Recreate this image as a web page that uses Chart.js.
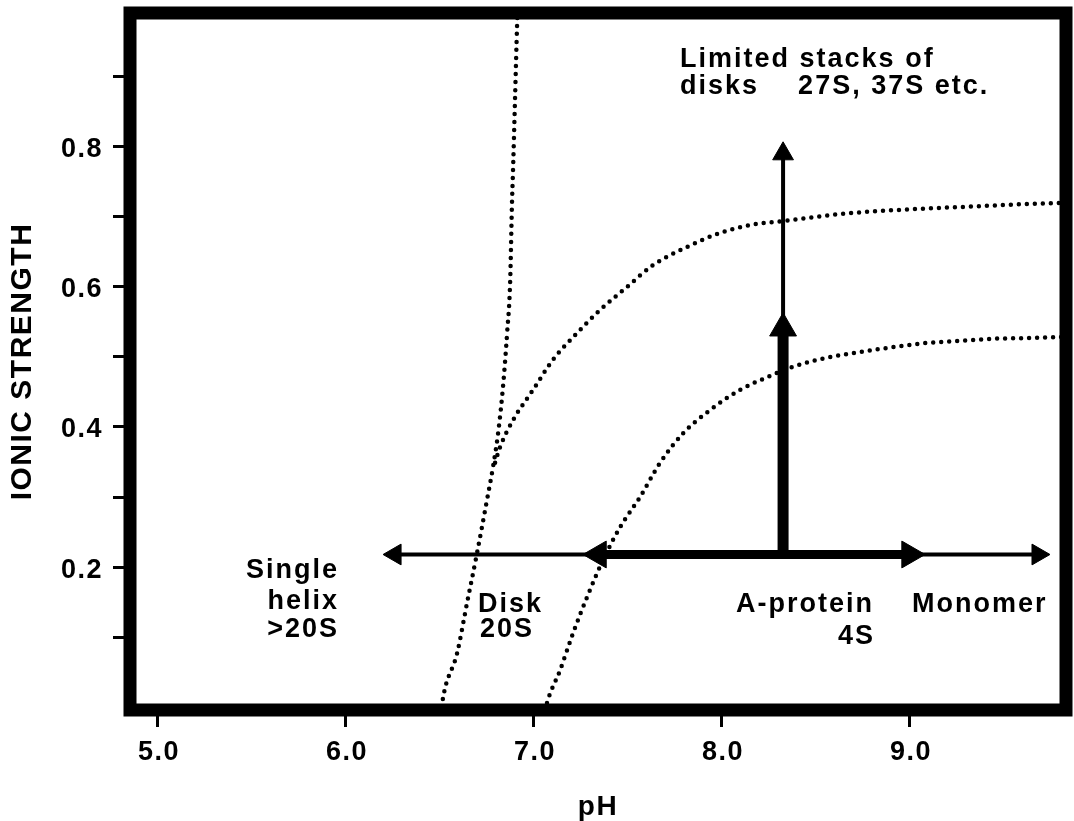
<!DOCTYPE html>
<html>
<head>
<meta charset="utf-8">
<title>TMV protein aggregation vs pH and ionic strength</title>
<script src="https://cdn.jsdelivr.net/npm/chart.js@4/dist/chart.umd.min.js"></script>
<style>
  html, body { margin: 0; padding: 0; background: #ffffff; }
  #wrap { width: 1074px; height: 821px; position: relative; }
</style>
</head>
<body>
<div id="wrap"><canvas id="phaseChart"></canvas></div>
<script>
// Boundary between single helix and disk (steep dotted line)
const helixDiskPH = [6.515, 6.521, 6.596, 6.649, 6.702, 6.755, 6.787, 6.814, 6.840, 6.862, 6.878, 6.888, 6.894, 6.904, 6.915, 6.918];
const helixDiskI  = [0.000, 0.013, 0.077, 0.149, 0.220, 0.296, 0.343, 0.391, 0.457, 0.534, 0.606, 0.720, 0.771, 0.867, 0.973, 0.995];

// Upper boundary of the stacked-disk region
const stackBoundPH = [6.798, 6.824, 6.894, 7.000, 7.106, 7.234, 7.356, 7.500, 7.638, 7.819, 7.995, 8.170, 8.330, 8.633, 8.952, 9.271, 9.600, 9.850];
const stackBoundI  = [0.349, 0.371, 0.410, 0.453, 0.496, 0.534, 0.567, 0.600, 0.631, 0.657, 0.677, 0.689, 0.694, 0.704, 0.710, 0.714, 0.718, 0.720];

// Boundary between disk and A-protein
const diskProteinPH = [7.065, 7.074, 7.144, 7.213, 7.287, 7.372, 7.463, 7.569, 7.676, 7.798, 7.941, 8.101, 8.245, 8.383, 8.564, 8.739, 8.915, 9.096, 9.271, 9.447, 9.628, 9.850];
const diskProteinI  = [-0.005, 0.006, 0.053, 0.106, 0.157, 0.210, 0.257, 0.300, 0.349, 0.391, 0.424, 0.453, 0.471, 0.486, 0.499, 0.507, 0.514, 0.520, 0.523, 0.526, 0.527, 0.529];

// Transition arrows (end points sit at the arrowhead centres)
const wideArrowPH   = [6.266, 9.686];
const wideArrowI    = [0.218, 0.218];
const shortArrowPH  = [7.348, 9.003];
const shortArrowI   = [0.218, 0.218];
const riseArrowPH   = [8.33, 8.33];
const riseArrowI    = [0.218, 0.541];
const stackArrowPH  = [8.33, 8.33];
const stackArrowI   = [0.50, 0.790];

// Axis ticks
const xTicks = [5, 6, 7, 8, 9];
const yTicks = [0.1, 0.2, 0.3, 0.4, 0.5, 0.6, 0.7, 0.8, 0.9];
const yLabelledTicks = [0.2, 0.4, 0.6, 0.8];

// Region labels, placed in pH / ionic strength units
const regionLabels = [
  { text: 'Limited stacks of', pH: 7.782, I: 0.914, align: 'left' },
  { text: 'disks',             pH: 7.782, I: 0.876, align: 'left' },
  { text: '27S, 37S etc.',     pH: 8.410, I: 0.876, align: 'left' },
  { text: 'Single',            pH: 5.968, I: 0.184, align: 'right' },
  { text: 'helix',             pH: 5.968, I: 0.140, align: 'right' },
  { text: '>20S',              pH: 5.968, I: 0.100, align: 'right' },
  { text: 'Disk',              pH: 6.707, I: 0.136, align: 'left' },
  { text: '20S',               pH: 6.718, I: 0.100, align: 'left' },
  { text: 'A-protein',         pH: 8.814, I: 0.136, align: 'right' },
  { text: '4S',                pH: 8.819, I: 0.090, align: 'right' },
  { text: 'Monomer',           pH: 9.016, I: 0.136, align: 'left' }
];

const FAMILY = "'Liberation Sans', Arial, Helvetica, sans-serif";

function toPoints(xs, ys) {
  return xs.map((x, i) => ({ x: x, y: ys[i] }));
}

function dottedCurve(xs, ys) {
  return {
    data: toPoints(xs, ys),
    showLine: true,
    borderColor: '#000',
    borderWidth: 4.5,
    borderDash: [0, 8],
    borderCapStyle: 'round',
    borderJoinStyle: 'round',
    cubicInterpolationMode: 'monotone',
    pointRadius: 0,
    pointHoverRadius: 0
  };
}

function arrow(xs, ys, width, heads, rotations) {
  return {
    data: toPoints(xs, ys),
    showLine: true,
    borderColor: '#000',
    borderWidth: width,
    borderCapStyle: 'butt',
    pointStyle: 'triangle',
    pointRadius: heads,
    pointHoverRadius: heads,
    pointRotation: rotations,
    pointBackgroundColor: '#000',
    pointBorderColor: '#000',
    pointBorderWidth: 1
  };
}

// Thick frame around the plotting area
const framePlugin = {
  id: 'frame',
  beforeDraw(chart) {
    chart.ctx.letterSpacing = '1.5px';
  },
  afterDatasetsDraw(chart) {
    const { ctx, chartArea: a } = chart;
    ctx.save();
    ctx.lineWidth = 13;
    ctx.strokeStyle = '#000';
    ctx.lineJoin = 'miter';
    ctx.strokeRect(a.left, a.top, a.right - a.left, a.bottom - a.top);
    ctx.restore();
  }
};

// Region names written at their pH / ionic strength positions
const regionLabelPlugin = {
  id: 'regionLabels',
  afterDatasetsDraw(chart) {
    const { ctx, scales: { x, y } } = chart;
    ctx.save();
    ctx.fillStyle = '#000';
    ctx.font = 'bold 27px ' + FAMILY;
    ctx.letterSpacing = '2px';
    ctx.textBaseline = 'alphabetic';
    regionLabels.forEach(l => {
      ctx.textAlign = l.align;
      ctx.fillText(l.text, x.getPixelForValue(l.pH), y.getPixelForValue(l.I));
    });
    ctx.restore();
  }
};

new Chart(document.getElementById('phaseChart'), {
  type: 'scatter',
  data: {
    datasets: [
      arrow(riseArrowPH, riseArrowI, 11, [0, 15.5], [0, 0]),
      arrow(shortArrowPH, shortArrowI, 9, [15.5, 15.5], [-90, 90]),
      arrow(stackArrowPH, stackArrowI, 4, [0, 12], [0, 0]),
      arrow(wideArrowPH, wideArrowI, 4, [12, 12], [-90, 90]),
      dottedCurve(helixDiskPH, helixDiskI),
      dottedCurve(stackBoundPH, stackBoundI),
      dottedCurve(diskProteinPH, diskProteinI)
    ]
  },
  options: {
    responsive: true,
    maintainAspectRatio: false,
    animation: false,
    devicePixelRatio: 1,
    layout: { padding: { left: 0, right: 8, top: 13, bottom: 0 }, autoPadding: false },
    plugins: { legend: { display: false }, tooltip: { enabled: false } },
    scales: {
      x: {
        type: 'linear',
        position: 'bottom',
        min: 4.856,
        max: 9.835,
        afterBuildTicks: s => { s.ticks = xTicks.map(v => ({ value: v })); },
        afterFit: s => { s.height = 111; s.paddingLeft = 0; s.paddingRight = 0; },
        ticks: {
          autoSkip: false,
          maxRotation: 0,
          padding: 9,
          labelOffset: 2,
          color: '#000',
          font: { family: FAMILY, size: 27, weight: 'bold' },
          callback: v => Number(v).toFixed(1)
        },
        grid: { drawOnChartArea: false, drawTicks: true, tickLength: 17, tickWidth: 3, tickColor: '#000' },
        border: { display: false },
        title: {
          display: true,
          text: 'pH',
          color: '#000',
          font: { family: FAMILY, size: 28, weight: 'bold', lineHeight: 1 },
          padding: { top: 0, bottom: 0 }
        }
      },
      y: {
        type: 'linear',
        position: 'left',
        min: -0.004,
        max: 0.991,
        afterBuildTicks: s => { s.ticks = yTicks.map(v => ({ value: v })); },
        afterFit: s => { s.width = 130; s.paddingTop = 0; s.paddingBottom = 0; },
        ticks: {
          autoSkip: false,
          padding: 10,
          labelOffset: 3,
          color: '#000',
          font: { family: FAMILY, size: 27, weight: 'bold' },
          callback: v => yLabelledTicks.some(t => Math.abs(t - v) < 1e-6) ? Number(v).toFixed(1) : ''
        },
        grid: { drawOnChartArea: false, drawTicks: true, tickLength: 17, tickWidth: 3, tickColor: '#000' },
        border: { display: false },
        title: {
          display: true,
          text: 'IONIC STRENGTH',
          color: '#000',
          font: { family: FAMILY, size: 30, weight: 'bold', lineHeight: 1 },
          padding: { top: 8, bottom: 0 }
        }
      }
    }
  },
  plugins: [framePlugin, regionLabelPlugin]
});
</script>
</body>
</html>
